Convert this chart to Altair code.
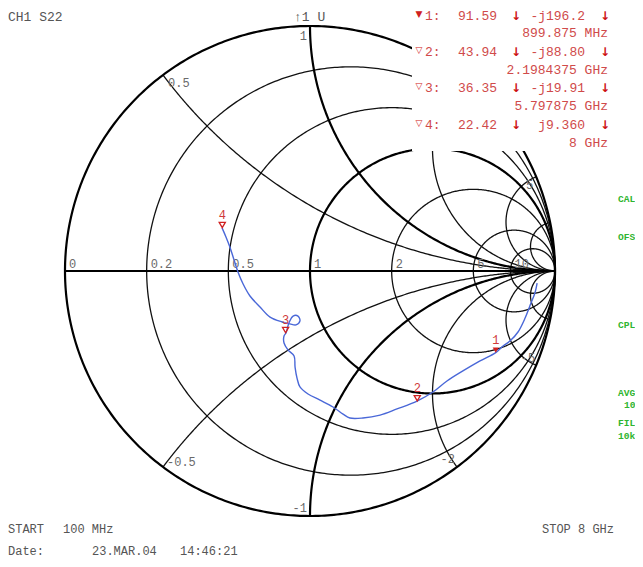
import numpy as np
import pandas as pd
import altair as alt

# ---------------- data ----------------
# Smith chart grid (normalised resistance circles / reactance arcs)
r_circles = [0.2, 0.5, 2, 5, 10]
r_bold = [0, 1]
x_arcs = [0.5, 2, 5, 10, -0.5, -2, -5, -10]
x_bold = [1, -1]
r_labels = ["0", "0.2", "0.5", "1", "2", "5", "10"]
r_label_vals = [0, 0.2, 0.5, 1, 2, 5, 10]

trace_re = [0.927, 0.918, 0.902, 0.878, 0.849, 0.816, 0.788, 0.758, 0.694, 0.624,
            0.559, 0.502, 0.437, 0.355, 0.286, 0.216, 0.163, 0.135, 0.094, 0.041,
            -0.008, -0.041, -0.053, -0.061, -0.065, -0.090, -0.106, -0.106, -0.098, -0.086,
            -0.069, -0.049, -0.041, -0.057, -0.082, -0.114, -0.163, -0.204, -0.245, -0.273,
            -0.294, -0.310, -0.327, -0.343, -0.359]
trace_im = [-0.049, -0.090, -0.131, -0.192, -0.249, -0.286, -0.306, -0.333, -0.367, -0.408,
            -0.449, -0.494, -0.531, -0.563, -0.588, -0.600, -0.600, -0.584, -0.555, -0.527,
            -0.502, -0.473, -0.437, -0.392, -0.347, -0.322, -0.294, -0.265, -0.253, -0.212,
            -0.184, -0.184, -0.204, -0.220, -0.216, -0.208, -0.188, -0.147, -0.102, -0.053,
            -0.004, 0.045, 0.098, 0.139, 0.176]

# markers (impedance in ohm, Z0 = 50)
marker_id = ["1", "2", "3", "4"]
marker_R = [91.59, 43.94, 36.35, 22.42]
marker_X = [-196.2, -88.80, -19.91, 9.360]
marker_freq = ["899.875 MHz", "2.1984375 GHz", "5.797875 GHz", "8 GHz"]
Z0 = 50.0

MONO = "Liberation Mono"
GRAY = "#555555"
LGRAY = "#6a6a6a"
RED = "#d04a4a"
DRED = "#cc1010"
GREEN = "#2fb52f"

# ---------------- geometry helpers ----------------
CX, CY, RAD = 310.0, 271.0, 245.0     # page position of chart centre / radius
W, H = 627, 551


def g(px, py):
    return (px - CX) / RAD, (CY - py) / RAD


xdom = [(8 - CX) / RAD, (8 + W - CX) / RAD]
ydom = [(CY - 8 - H) / RAD, (CY - 8) / RAD]
XS = alt.Scale(domain=xdom, nice=False, zero=False)
YS = alt.Scale(domain=ydom, nice=False, zero=False)


def r_circle(r, n=500):
    t = np.linspace(0, 2 * np.pi, n)
    c, R = r / (1 + r), 1 / (1 + r)
    return c + R * np.cos(t), R * np.sin(t)


def x_arc(x, n=700):
    rr = np.concatenate([[0.0], np.logspace(-3, 4.5, n)])
    z = rr + 1j * x
    gg = (z - 1) / (z + 1)
    return gg.real, gg.imag


def grid_df(rs, xs, axis=False):
    rows = []
    k = 0
    for r in rs:
        a, b = r_circle(r)
        for i, (u, v) in enumerate(zip(a, b)):
            rows.append((f"r{k}", i, u, v))
        k += 1
    for x in xs:
        a, b = x_arc(x)
        for i, (u, v) in enumerate(zip(a, b)):
            rows.append((f"x{k}", i, u, v))
        k += 1
    if axis:
        rows.append(("ax", 0, -1.0, 0.0))
        rows.append(("ax", 1, 1.0, 0.0))
    return pd.DataFrame(rows, columns=["id", "o", "re", "im"])


def lines(df, width, color="#000000"):
    return alt.Chart(df).mark_line(color=color, strokeWidth=width).encode(
        x=alt.X("re:Q", scale=XS, axis=None),
        y=alt.Y("im:Q", scale=YS, axis=None),
        detail="id:N", order="o:Q")


thin = lines(grid_df(r_circles, x_arcs), 1.3, "#111111")
bold = lines(grid_df(r_bold, x_bold, axis=True), 2.2)

trace_df = pd.DataFrame({"re": trace_re, "im": trace_im, "o": range(len(trace_re))})
trace = alt.Chart(trace_df).mark_line(color="#4a68d8", strokeWidth=1.4, interpolate="catmull-rom").encode(
    x=alt.X("re:Q", scale=XS, axis=None), y=alt.Y("im:Q", scale=YS, axis=None), order="o:Q")

# markers from impedance
zm = (np.array(marker_R) + 1j * np.array(marker_X)) / Z0
gm = (zm - 1) / (zm + 1)
mk = pd.DataFrame({"id": marker_id, "re": gm.real, "im": gm.imag,
                   "filled": [True, False, False, False]})
mk_fill = alt.Chart(mk[mk.filled]).mark_point(shape="triangle-down", size=38, filled=True,
                                                color="#d02020", yOffset=-3, opacity=1).encode(
    x=alt.X("re:Q", scale=XS, axis=None), y=alt.Y("im:Q", scale=YS, axis=None))
mk_hollow = alt.Chart(mk[~mk.filled]).mark_point(shape="triangle-down", size=38, filled=False,
                                                  color="#d02020", strokeWidth=1.3, yOffset=-3, opacity=1).encode(
    x=alt.X("re:Q", scale=XS, axis=None), y=alt.Y("im:Q", scale=YS, axis=None))
mk_lbl = alt.Chart(mk).mark_text(font=MONO, fontSize=12, color="#d03a3a", dy=-9, align="center",
                                 baseline="alphabetic").encode(
    x=alt.X("re:Q", scale=XS, axis=None), y=alt.Y("im:Q", scale=YS, axis=None), text="id:N")

# chart grid labels
rl = pd.DataFrame({"t": r_labels, "re": [(r - 1) / (r + 1) for r in r_label_vals], "im": 0.0})
r_lbl = alt.Chart(rl).mark_text(font=MONO, fontSize=12, color=LGRAY, align="left", dx=4, dy=-3,
                                baseline="alphabetic").encode(
    x=alt.X("re:Q", scale=XS, axis=None), y=alt.Y("im:Q", scale=YS, axis=None), text="t:N")


def xlab(text, x, align, dx, dy):
    u, v = (x * x - 1) / (x * x + 1), 2 * x / (x * x + 1)
    d = pd.DataFrame({"t": [text], "re": [u], "im": [v]})
    return alt.Chart(d).mark_text(font=MONO, fontSize=12, color=LGRAY, align=align, dx=dx, dy=dy,
                                  baseline="alphabetic").encode(
        x=alt.X("re:Q", scale=XS, axis=None), y=alt.Y("im:Q", scale=YS, axis=None), text="t:N")


x_lbls = [xlab("0.5", 0.5, "left", 5, 12), xlab("1", 1, "right", -3, 14),
          xlab("5", 5, "right", -3, 12), xlab("-0.5", -0.5, "left", 4, -1),
          xlab("-1", -1, "right", -3, -4), xlab("-2", -2, "right", -2, -4),
          xlab("-5", -5, "right", -1, -3)]

# white readout box covering the chart top-right
bx0, by0 = g(412, 0)
bx1, by1 = g(643, 151)
box = alt.Chart(pd.DataFrame({"a": [bx0], "b": [bx1], "c": [by1], "d": [by0]})).mark_rect(
    color="white").encode(x=alt.X("a:Q", scale=XS, axis=None), x2="b:Q",
                          y=alt.Y("c:Q", scale=YS, axis=None), y2="d:Q")


def texts(items, align="left", color=GRAY, size=12, weight="normal", font=MONO):
    rows = []
    for t, px, py in items:
        u, v = g(px, py)
        rows.append((t, u, v))
    d = pd.DataFrame(rows, columns=["t", "re", "im"])
    return alt.Chart(d).mark_text(align=align, baseline="alphabetic", color=color, fontSize=size,
                                  fontWeight=weight, font=font).encode(
        x=alt.X("re:Q", scale=XS, axis=None), y=alt.Y("im:Q", scale=YS, axis=None), text="t:N")


header = texts([("CH1 S22", 8, 21), ("\u21911 U", 294, 21)], size=13)

row_y = [20, 56, 92, 129]
freq_y = [37, 74, 110, 147]
sym = ["\u25bc", "\u25bd", "\u25bd", "\u25bd"]
sym_t = texts([(s, 419, y - 3) for s, y in zip(sym, row_y)], align="center", color="#d02020",
              size=9, font="DejaVu Sans")
ids_t = texts([(f"{i}:", 425, y) for i, y in zip(marker_id, row_y)], color=RED, size=13)
rv_t = texts([(f"{R:.2f}", 497, y) for R, y in zip(marker_R, row_y)], align="right", color=RED, size=13)
xv_t = texts([(("-" if X < 0 else "") + "j" + f"{abs(X):#.4g}", 585, y) for X, y in zip(marker_X, row_y)],
             align="right", color=RED, size=13)
arr_t = texts([("\u2193", 516, y) for y in row_y] + [("\u2193", 605, y) for y in row_y],
              align="center", color=DRED, size=12, weight="bold", font="DejaVu Sans")
fq_t = texts([(f, 608, y) for f, y in zip(marker_freq, freq_y)], align="right", color=RED, size=13)

green = texts([("CAL", 618, 202), ("OFS", 618, 240), ("CPL", 618, 328), ("AVG", 618, 396),
               ("10", 624, 408), ("FIL", 618, 426), ("10k", 618, 439)],
              color=GREEN, size=9.6, weight="bold")

footer_l = texts([("START", 8, 533), ("100 MHz", 63, 533), ("Date:", 8, 555),
                  ("23.MAR.04", 92, 555), ("14:46:21", 180, 555)], size=12)
footer_r = texts([("STOP 8 GHz", 614, 533)], align="right", size=12)

chart = alt.layer(thin, bold, r_lbl, *x_lbls, trace, mk_hollow, mk_fill, mk_lbl, box, header,
                  sym_t, ids_t, rv_t, xv_t, arr_t, fq_t, green, footer_l, footer_r).properties(
    width=W, height=H, padding=0, autosize=alt.AutoSizeParams(type="none"),
    background="white").configure_view(stroke=None)

chart.save("out.html", embed_options={"renderer": "svg", "actions": False})
